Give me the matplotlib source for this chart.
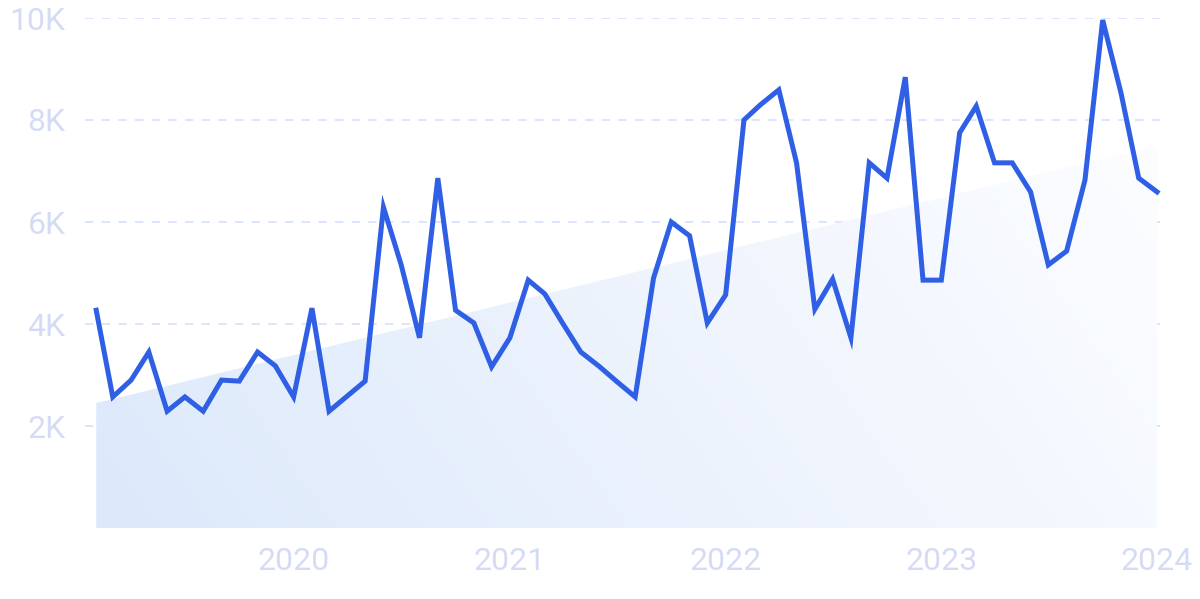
import numpy as np
import pandas as pd
import matplotlib
matplotlib.use("Agg")
import matplotlib.pyplot as plt
import matplotlib.dates as mdates
from matplotlib.colors import LinearSegmentedColormap
from matplotlib.patches import Polygon

# monthly values, Feb 2019 .. Jan 2024
months = pd.date_range("2019-02-01", "2024-01-01", freq="MS")
values = [
    4270, 2570, 2900, 3450, 2290, 2570, 2290, 2900, 2880, 3450, 3180,
    2570, 4310, 2290, 2590, 2880, 6290, 5160, 3730, 6860, 4270, 4020, 3160,
    3730, 4860, 4590, 4000, 3450, 3170, 2870, 2570, 4900, 6000, 5730, 4020,
    4570, 8000, 8300, 8590, 7160, 4290, 4880, 3730, 7160, 6860, 8840, 4860,
    4860, 7750, 8270, 7160, 7160, 6590, 5160, 5430, 6820, 9960, 8530, 6860,
    6590,
]
trend_start, trend_end = 2450, 7500

yticks = [2000, 4000, 6000, 8000, 10000]
ytick_labels = ["2K", "4K", "6K", "8K", "10K"]
xticks = pd.to_datetime(["2020-01-01", "2021-01-01", "2022-01-01", "2023-01-01", "2024-01-01"])
xtick_labels = ["2020", "2021", "2022", "2023", "2024"]

line_color = "#2f5fe4"
label_color = "#d4dcf5"
grid_color = "#d3e1fb"

fig = plt.figure(figsize=(12, 5.99), dpi=100)
ax = fig.add_axes([85 / 1200, 71 / 599, 1075 / 1200, 510 / 599])

x = mdates.date2num(months)
x0, x1 = x[0], x[-1]

# trend area with gradient fill
poly = Polygon([(x0, 0), (x0, trend_start), (x1, trend_end), (x1, 0)],
               closed=True, facecolor="none", edgecolor="none")
ax.add_patch(poly)
cmap = LinearSegmentedColormap.from_list("fade", ["#dce9fb", "#edf3fd", "#fcfdff"])
gx, gy = np.meshgrid(np.linspace(0, 1, 300), np.linspace(0, 1, 150))
grad = 0.8 * gx + 0.2 * (1 - gy)
im = ax.imshow(grad, cmap=cmap, extent=[x0, x1, 0, trend_end], origin="upper",
               aspect="auto", zorder=1, vmin=0, vmax=1)
im.set_clip_path(poly)

ax.plot(x, values, color=line_color, lw=3.6, zorder=3, solid_joinstyle="miter",
        clip_on=False)

ax.set_xlim(x0 - 19, x1 + 5)
ax.set_ylim(0, 10000)

ax.set_yticks(yticks)
ax.set_yticklabels(ytick_labels)
ax.set_xticks(mdates.date2num(xticks))
ax.set_xticklabels(xtick_labels)

for lab in ax.get_yticklabels() + ax.get_xticklabels():
    lab.set_fontfamily("Roboto")
    lab.set_fontsize(23)
    lab.set_color(label_color)

ax.tick_params(axis="both", length=0)
ax.tick_params(axis="y", pad=14)
ax.tick_params(axis="x", pad=14)
ax.grid(axis="y", color=grid_color, linestyle=(0, (5, 5)), lw=1.2, zorder=0)
ax.set_axisbelow(True)
for s in ax.spines.values():
    s.set_visible(False)

fig.savefig("out.png", dpi=100)
